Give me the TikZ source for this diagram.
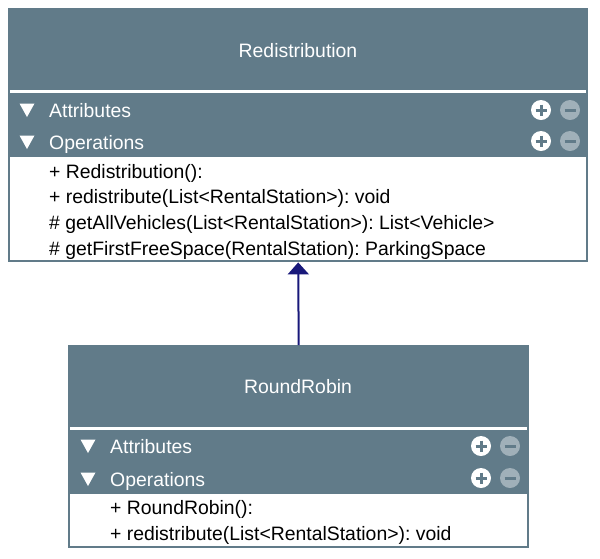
\documentclass[tikz,border=0pt]{standalone}
\usepackage{fontspec}
\setmainfont{Liberation Sans}
\usetikzlibrary{arrows.meta,positioning}

\definecolor{umlslate}{RGB}{97,123,137}
\definecolor{umlminus}{RGB}{160,176,185}
\definecolor{umlnavy}{RGB}{24,24,122}
\newcommand{\umlfont}{\fontsize{19.4}{23}\selectfont\frenchspacing}

% Collapse marker and the plus/minus buttons of a section row
\newcommand{\umlcaret}[1]{\fill[white, shift={(#1)}] (-7.5,-6.5) -- (7.5,-6.5) -- (0,7) -- cycle;}
\newcommand{\umlbuttons}[1]{%
  \begin{scope}[shift={(#1)}]
    \fill[white] (0,0) circle (10pt);
    \draw[umlslate, line width=3] (-5.5,0) -- (5.5,0) (0,-5.5) -- (0,5.5);
    \fill[umlminus] (29,0) circle (10pt);
    \draw[umlslate, line width=3] (23.5,0) -- (34.5,0);
  \end{scope}}

\tikzset{
  umlclass/.style={fill=umlslate, inner sep=0pt, anchor=north west},
  umlbody/.style={fill=white, inner sep=0pt, anchor=north west},
  umltitle/.style={text=white, font=\umlfont, inner sep=0pt, anchor=base},
  umlrow/.style={text=white, font=\umlfont, anchor=base west, inner sep=0pt},
  umlop/.style={text=black, font=\umlfont, anchor=base west, inner sep=0pt},
  umlsplit/.style={white, line width=3}
}

\begin{document}
\begin{tikzpicture}[x=1pt, y=-1pt]
  \useasboundingbox (0,0) rectangle (600,558);
  % Class Redistribution
  \node[umlclass, minimum width=580, minimum height=254] (redist) at (8,8) {};
  \node[umltitle] (redisttitle) at (298,57) {Redistribution};
  \draw[umlsplit] (10,91) -- (586,91);
  \coordinate (redistattrc) at (27,110);
  \coordinate (redistoperc) at (27,142);
  \umlcaret{redistattrc}
  \umlcaret{redistoperc}
  \node[umlrow] (redistattr) at (49,117) {Attributes};
  \node[umlrow] (redistoper) at (49,149) {Operations};
  \coordinate (redistattrb) at (541,110);
  \coordinate (redistoperb) at (541,141);
  \umlbuttons{redistattrb}
  \umlbuttons{redistoperb}
  \node[umlbody, minimum width=576, minimum height=103] (redistops) at (10,157) {};
  \node[umlop] (redistopa) at (49,178) {+ Redistribution():};
  \node[umlop] (redistopb) at (49,203) {+ redistribute(List<RentalStation>): void};
  \node[umlop] (redistopc) at (49,229) {\# getAllVehicles(List<RentalStation>): List<Vehicle>};
  \node[umlop] (redistopd) at (49,255) {\# getFirstFreeSpace(RentalStation): ParkingSpace};

  % Class RoundRobin
  \node[umlclass, minimum width=461, minimum height=203] (robin) at (68,345) {};
  \node[umltitle] (robintitle) at (298,393) {RoundRobin};
  \draw[umlsplit] (70,428) -- (527,428);
  \coordinate (robinattrc) at (88,446);
  \coordinate (robinoperc) at (88,479);
  \umlcaret{robinattrc}
  \umlcaret{robinoperc}
  \node[umlrow] (robinattr) at (110,453) {Attributes};
  \node[umlrow] (robinoper) at (110,486) {Operations};
  \coordinate (robinattrb) at (481,446);
  \coordinate (robinoperb) at (481,478);
  \umlbuttons{robinattrb}
  \umlbuttons{robinoperb}
  \node[umlbody, minimum width=457, minimum height=52] (robinops) at (70,494) {};
  \node[umlop] (robinopa) at (110,514) {+ RoundRobin():};
  \node[umlop] (robinopb) at (110,540) {+ redistribute(List<RentalStation>): void};

  % Generalization
  \draw[umlnavy, line width=2, -{Triangle[length=12pt, width=21pt]}] (robin.north) -- (redist.south);
\end{tikzpicture}
\end{document}
